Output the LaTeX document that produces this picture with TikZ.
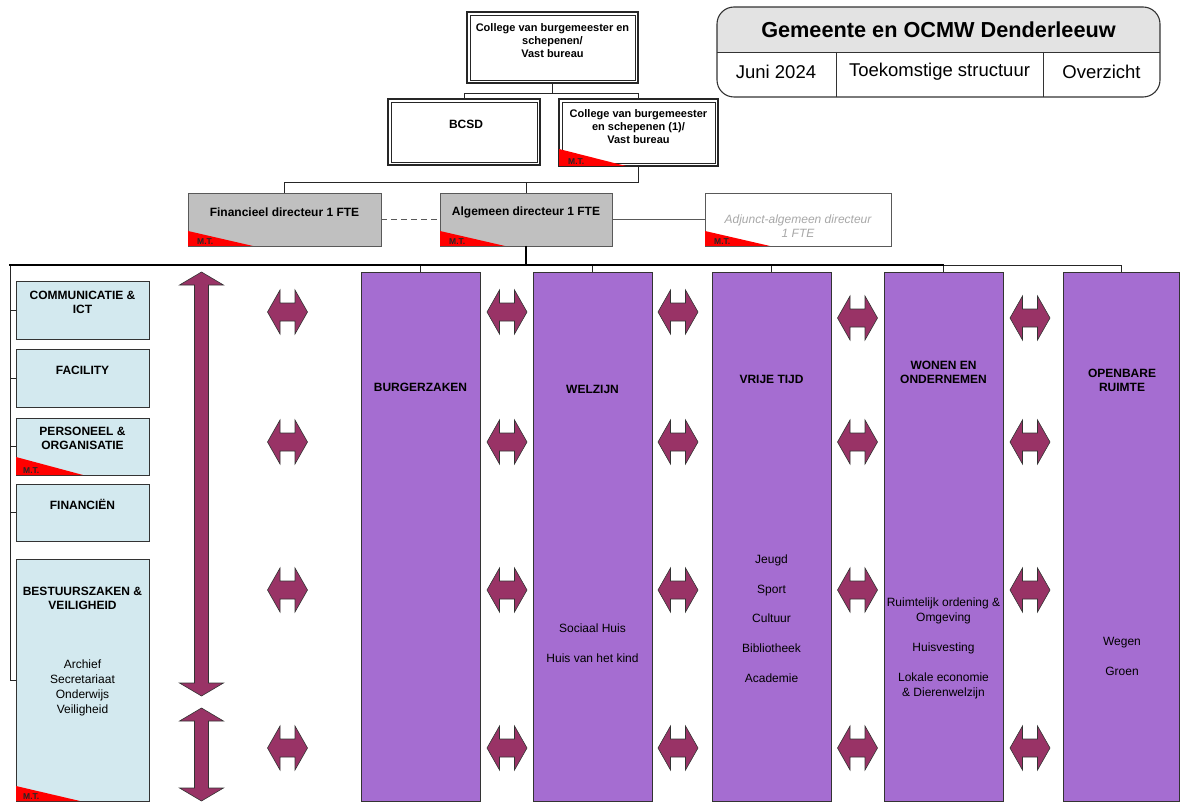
\documentclass[tikz,border=0pt]{standalone}
\usepackage{fontspec}
\setmainfont{Liberation Sans}
\definecolor{lblue}{HTML}{D3E9EF}
\definecolor{purp}{HTML}{A56DD1}
\definecolor{maroon}{HTML}{993366}
\definecolor{dirgray}{HTML}{C0C0C0}
\definecolor{hdrgray}{HTML}{E3E3E3}
\definecolor{mtred}{HTML}{FF0000}
\definecolor{adjgray}{HTML}{A8A8A8}
\definecolor{edgec}{HTML}{333333}
% flag: node, width, height, text x-offset
\newcommand\mtflag[4]{%
  \fill[mtred] (#1.south west) -- ++(0,-#3) -- ++(#2,#3) -- cycle;
  \path (#1.south west) ++(#4,-1.5) node[mttxt, anchor=south west] (#1-mt) {M.T.};}
% horizontal double arrow: x, y
\newcommand\harrow[2]{%
  \draw[arr] (#1,#2) ++(-20,0) -- ++(12.5,-22) -- ++(0,13) -- ++(15,0) -- ++(0,-13)
    -- ++(12.5,22) -- ++(-12.5,22) -- ++(0,-13) -- ++(-15,0) -- ++(0,13) -- cycle;}
% vertical double arrow: x, ytop, ybot
\newcommand\vdarrow[3]{%
  \draw[arr] (#1,#2) -- ({#1+22},{#2+13}) -- ({#1+7},{#2+13}) -- ({#1+7},{#3-13})
    -- ({#1+22},{#3-13}) -- (#1,#3) -- ({#1-22},{#3-13}) -- ({#1-7},{#3-13})
    -- ({#1-7},{#2+13}) -- ({#1-22},{#2+13}) -- cycle;}
\begin{document}
\begin{tikzpicture}[x=1pt,y=-1pt,
  conn/.style={draw=black!85, line width=0.8pt},
  bar/.style={draw=black, line width=1.8pt},
  dbox/.style={draw=black!85, line width=1.8pt, fill=white, inner sep=0pt, outer sep=0pt},
  dirbox/.style={draw=black!65, line width=0.8pt, fill=dirgray, inner sep=0pt, outer sep=0pt, minimum height=53pt},
  adjbox/.style={draw=black!65, line width=0.8pt, fill=white, inner sep=0pt, outer sep=0pt, minimum height=53pt},
  lbox/.style={draw=edgec, line width=0.8pt, fill=lblue, inner sep=0pt, outer sep=0pt, minimum width=133pt},
  pbox/.style={draw=edgec, line width=0.8pt, fill=purp, inner sep=0pt, outer sep=0pt, minimum width=119pt, minimum height=529pt},
  arr/.style={fill=maroon, draw=edgec, line width=0.6pt, line join=miter},
  mttxt/.style={font=\fontsize{8.5}{9}\selectfont\bfseries, text=black!85, inner sep=0pt},
  tb/.style={font=\fontsize{12}{14}\selectfont\bfseries, align=center, inner sep=0pt},
  tsb/.style={font=\fontsize{11}{13}\selectfont\bfseries, align=center, inner sep=0pt},
  ti/.style={font=\fontsize{12}{15}\selectfont, align=center, inner sep=0pt},
  adjt/.style={font=\fontsize{12}{14}\selectfont\itshape, text=adjgray, align=center, inner sep=0pt},
  hdr/.style={font=\fontsize{21.7}{24}\selectfont\bfseries, inner sep=0pt},
  sub/.style={font=\fontsize{18.5}{20}\selectfont, inner sep=0pt}]
\useasboundingbox (0,0) rectangle (1180,802);

% ---------- title block ----------
\begin{scope}
  \clip[rounded corners=17pt] (717,7) rectangle (1160,97);
  \fill[hdrgray] (717,7) rectangle (1160,52);
\end{scope}
\draw[edgec, line width=1.1pt, rounded corners=17pt] (717,7) rectangle (1160,97);
\draw[edgec, line width=0.9pt] (717,52) -- (1160,52);
\draw[edgec, line width=0.9pt] (836,52) -- (836,97);
\draw[edgec, line width=0.9pt] (1043,52) -- (1043,97);
\node[hdr] (title) at (938.5,30) {Gemeente en OCMW Denderleeuw};
\node[sub] (date) at (776,72) {Juni 2024};
\node[sub] (kind) at (939.5,72) {Toekomstige structuur};
\node[sub] (view) at (1101.5,72) {Overzicht};

% ---------- top boxes ----------
\node[dbox, minimum width=171pt, minimum height=71pt] (coll) at (552.5,47.5) {};
\node[dbox, minimum width=152pt, minimum height=66pt] (bcsd) at (464,132) {};
\node[dbox, minimum width=159pt, minimum height=67pt] (coll1) at (638.5,132.5) {};
\foreach \n in {coll,bcsd,coll1}{
  \draw[black!85, line width=0.7pt] ([shift={(2.9pt,-2.9pt)}]\n.north west) rectangle ([shift={(-2.9pt,2.9pt)}]\n.south east);}
\mtflag{coll1}{67}{17}{9}
\node[tsb] (coll-t) at (552.5,40.5) {College van burgemeester en\\schepenen/\\Vast bureau};
\node[tb] (bcsd-t) at (466,124) {BCSD};
\node[tsb] (coll1-t) at (638.5,126.5) {College van burgemeester\\en schepenen (1)/\\Vast bureau};

\coordinate (j1) at (552.5,93.5);
\draw[conn] (coll.south) -- (j1) -| (bcsd.north);
\draw[conn] (j1) -| (coll1.north);

% ---------- directors ----------
\node[dirbox, minimum width=193pt] (fin) at (284.5,219.5) {};
\node[dirbox, minimum width=172pt] (alg) at (526,219.5) {};
\node[adjbox, minimum width=186pt] (adj) at (798,219.5) {};
\mtflag{fin}{65}{15}{9}
\mtflag{alg}{65}{15}{9}
\mtflag{adj}{65}{15}{9}
\node[tb] (fin-t) at (284.5,212) {Financieel directeur 1 FTE};
\node[tb] (alg-t) at (526,212) {Algemeen directeur 1 FTE};
\node[adjt] (adj-t) at (798,226) {Adjunct-algemeen directeur\\1 FTE};

\coordinate (j2) at (638.5,182);
\draw[conn] (coll1.south) -- (j2) -| (fin.north);
\draw[conn] (alg.north) -- (alg.north |- j2);
\draw[conn, draw=black!65, dash pattern=on 6pt off 4pt] (fin.east) -- (alg.west);
\draw[conn, draw=black!65] (alg.east) -- (adj.west);

% ---------- left column ----------
\node[lbox, minimum height=58pt] (comm) at (82.5,310) {};
\node[lbox, minimum height=58pt] (fac) at (82.5,378) {};
\node[lbox, minimum height=57pt] (pers) at (82.5,446.5) {};
\node[lbox, minimum height=57pt] (fin2) at (82.5,512.5) {};
\node[lbox, minimum height=242pt] (best) at (82.5,680) {};
\mtflag{pers}{67}{18}{7}
\mtflag{best}{64}{15}{7}
\node[tb] (comm-t) at (82.5,302) {COMMUNICATIE \&\\ICT};
\node[tb] (fac-t) at (82.5,370) {FACILITY};
\node[tb] (pers-t) at (82.5,438.5) {PERSONEEL \&\\ORGANISATIE};
\node[tb] (fin2-t) at (82.5,504) {FINANCIËN};
\node[tb] (best-t) at (82.5,598) {BESTUURSZAKEN \&\\VEILIGHEID};
\node[ti] (best-i) at (82.5,687.5) {Archief\\Secretariaat\\Onderwijs\\Veiligheid};

% ---------- purple columns ----------
\node[pbox] (burger) at (420.5,536.5) {};
\node[pbox] (welzijn) at (592.5,536.5) {};
\node[pbox] (vrije) at (771.5,536.5) {};
\node[pbox] (wonen) at (943.5,536.5) {};
\node[pbox, minimum width=116pt] (open) at (1121,536.5) {};
\node[tb] (burger-t) at (420.5,387) {BURGERZAKEN};
\node[tb] (welzijn-t) at (592.5,389) {WELZIJN};
\node[tb] (vrije-t) at (771.5,379) {VRIJE TIJD};
\node[tb, font=\fontsize{12}{13.5}\selectfont\bfseries] (wonen-t) at (943.5,372.5) {WONEN EN\\ONDERNEMEN};
\node[tb, font=\fontsize{12}{14.5}\selectfont\bfseries] (open-t) at (1122,380.5) {OPENBARE\\RUIMTE};
\node[ti, font=\fontsize{12}{30}\selectfont] (welzijn-i) at (592.5,643) {Sociaal Huis\\Huis van het kind};
\node[ti, font=\fontsize{12}{29.75}\selectfont] (vrije-i) at (771.5,618.5) {Jeugd\\Sport\\Cultuur\\Bibliotheek\\Academie};
\node[ti] (wonen-i) at (943.5,648) {Ruimtelijk ordening \&\\Omgeving\\[15pt]Huisvesting\\[15pt]Lokale economie\\\& Dierenwelzijn};
\node[ti, font=\fontsize{12}{30}\selectfont] (open-i) at (1122,656) {Wegen\\Groen};

% ---------- bus lines ----------
\coordinate (barL) at (10,265);
\coordinate (barR) at (open.north |- barL);
\draw[bar] (alg.south) -- (alg.south |- barL);
\foreach \c in {burger,welzijn,vrije,wonen}{
  \draw[conn] (\c.north) -- (\c.north |- barL);}
\draw[conn] (wonen.north |- barL) -- (barR) -- (open.north);
\draw[conn, line width=1pt] (barL) |- (best.west);
\foreach \b in {comm,fac,pers,fin2}{
  \draw[conn] (\b.west) -- (\b.west -| barL);}
\draw[bar] ([xshift=-0.9pt]barL) -- (wonen.north |- barL);

% ---------- arrows ----------
\vdarrow{201.5}{272}{696}
\vdarrow{201.5}{708}{801}
\foreach \x in {287.5,507,678}{\harrow{\x}{312}}
\foreach \x in {857.5,1030}{\harrow{\x}{318}}
\foreach \y in {442,590,748}{
  \foreach \x in {287.5,507,678,857.5,1030}{\harrow{\x}{\y}}}
\end{tikzpicture}
\end{document}
